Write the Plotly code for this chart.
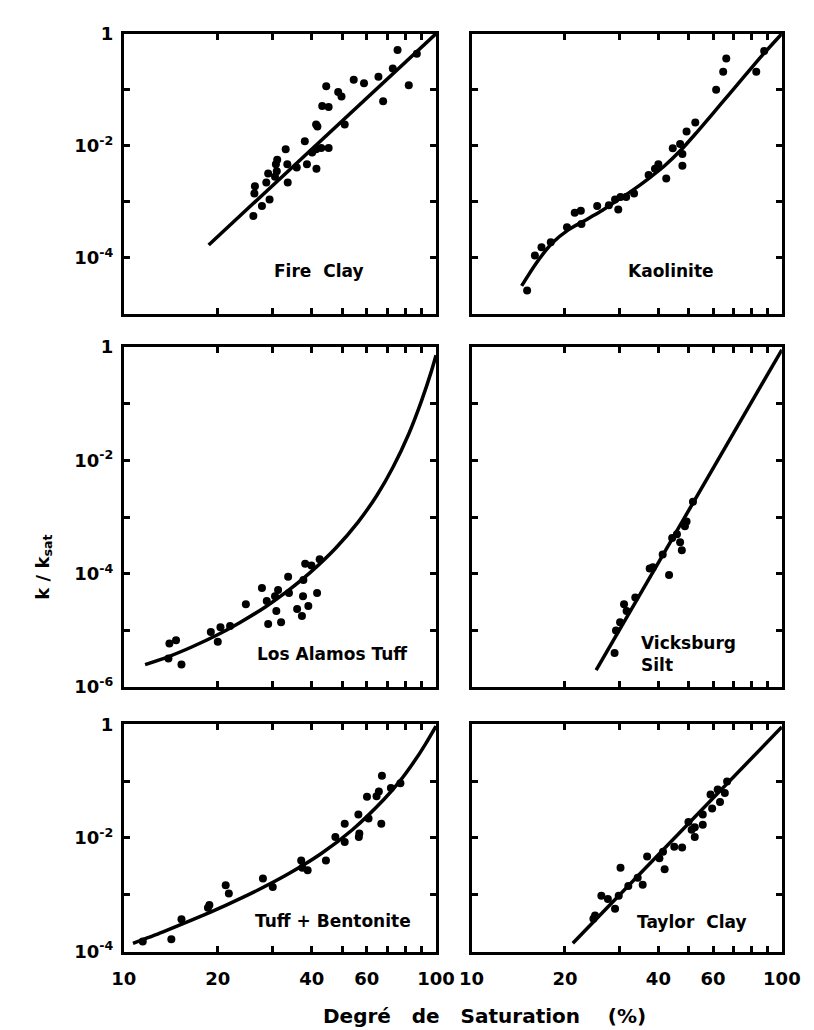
import plotly.graph_objects as go

# ---------------- data ----------------
# Fire Clay
fire_pts_x = [26.0, 27.7, 29.3, 26.2, 26.3, 28.6, 29.0, 30.5, 30.9, 30.7, 31.0, 33.0, 33.4, 33.5, 35.8, 38.6,
              38.0, 40.1, 41.4, 41.3, 42.9, 45.3, 41.3, 41.7, 43.2, 45.3, 44.5, 48.6, 49.8, 51.0, 54.5, 58.8,
              65.4, 67.7, 72.7, 75.3, 81.8, 86.8]
fire_pts_y = [5.6e-4, 8.4e-4, 1.1e-3, 1.4e-3, 1.9e-3, 2.2e-3, 3.2e-3, 2.8e-3, 3.5e-3, 4.7e-3, 5.6e-3, 8.7e-3,
              4.7e-3, 2.2e-3, 4.1e-3, 4.7e-3, 1.2e-2, 7.6e-3, 3.9e-3, 8.7e-3, 9.1e-3, 9.1e-3, 2.4e-2, 2.2e-2,
              5.1e-2, 4.9e-2, 0.115, 0.091, 0.076, 2.4e-2, 0.15, 0.13, 0.17, 0.062, 0.24, 0.51, 0.12, 0.44]
fire_fit_x = [18.7, 100]
fire_fit_y = [1.7e-4, 1.0]

# Kaolinite
kao_pts_x = [15.1, 16.0, 16.8, 18.0, 20.3, 21.5, 22.5, 22.6, 25.4, 27.7, 29.0, 29.7, 30.2, 31.5, 33.4, 37.2,
             39.0, 40.0, 42.4, 44.5, 47.0, 47.8, 47.8, 49.3, 52.6, 61.4, 64.7, 66.2, 82.7, 87.7]
kao_pts_y = [2.6e-5, 1.1e-4, 1.54e-4, 1.9e-4, 3.5e-4, 6.4e-4, 6.9e-4, 4.0e-4, 8.4e-4, 8.7e-4, 1.1e-3, 7.3e-4,
             1.22e-3, 1.22e-3, 1.4e-3, 3.0e-3, 3.9e-3, 4.7e-3, 2.6e-3, 9.0e-3, 1.07e-2, 4.4e-3, 7.1e-3, 1.8e-2,
             2.6e-2, 0.10, 0.21, 0.36, 0.21, 0.49]
kao_fit_x = [14.5, 16.2, 18.2, 20.5, 23.1, 26.0, 29.3, 33.0, 37.2, 41.9, 47.2, 53.2, 60.0, 67.5, 76.0, 85.7, 100]
kao_fit_y = [3.16e-5, 8.2e-5, 1.84e-4, 3.16e-4, 4.6e-4, 6.7e-4, 1.04e-3, 1.6e-3, 2.6e-3, 4.4e-3, 8.3e-3, 1.74e-2,
             3.8e-2, 8.2e-2, 0.178, 0.39, 1.0]

# Los Alamos Tuff
lat_pts_x = [14.0, 14.7, 15.3, 13.9, 19.0, 20.0, 20.4, 21.9, 24.6, 27.7, 28.7, 29.0, 30.5, 31.2, 30.8, 31.9,
             33.6, 33.8, 35.9, 37.5, 37.2, 39.0, 38.1, 39.9, 41.6, 42.4, 37.6]
lat_pts_y = [5.9e-6, 6.7e-6, 2.5e-6, 3.2e-6, 9.4e-6, 6.3e-6, 1.14e-5, 1.2e-5, 2.9e-5, 5.6e-5, 3.3e-5, 1.3e-5,
             4.0e-5, 5.2e-5, 2.2e-5, 1.4e-5, 8.9e-5, 4.6e-5, 2.4e-5, 4.0e-5, 1.8e-5, 2.7e-5, 1.5e-4, 1.4e-4,
             4.6e-5, 1.8e-4, 7.8e-5]
lat_fit_x = [11.7, 14.0, 16.5, 19.9, 23.5, 28.4, 33.5, 39.5, 47.6, 56.2, 64.7, 72.8, 81.9, 89.9, 96.6, 100]
lat_fit_y = [2.5e-6, 3.5e-6, 5.1e-6, 8.3e-6, 1.37e-5, 2.6e-5, 5.0e-5, 1.05e-4, 2.8e-4, 8.1e-4, 2.44e-3, 7.6e-3,
             3.0e-2, 0.114, 0.374, 0.72]

# Vicksburg Silt
vs_pts_x = [28.9, 29.2, 30.1, 31.0, 31.6, 33.7, 37.5, 38.4, 41.3, 43.3, 44.3, 45.9, 47.0, 47.6, 48.7, 51.7, 49.3]
vs_pts_y = [4.0e-6, 1.0e-5, 1.4e-5, 2.9e-5, 2.2e-5, 3.8e-5, 1.24e-4, 1.3e-4, 2.2e-4, 9.5e-5, 4.3e-4, 5.0e-4,
            3.6e-4, 2.6e-4, 6.9e-4, 1.86e-3, 8.4e-4]
vs_fit_x = [25.2, 100]
vs_fit_y = [2.0e-6, 0.9]

# Tuff + Bentonite
tb_pts_x = [11.5, 14.2, 15.3, 18.6, 18.8, 21.2, 21.7, 27.9, 30.0, 37.0, 37.3, 38.8, 44.4, 47.6, 51.0, 51.0,
            56.4, 56.6, 56.8, 60.1, 60.8, 64.5, 65.6, 66.8, 67.1, 71.7, 76.9]
tb_pts_y = [1.5e-4, 1.65e-4, 3.7e-4, 5.9e-4, 6.6e-4, 1.47e-3, 1.05e-3, 1.94e-3, 1.37e-3, 4.0e-3, 3.0e-3, 2.7e-3,
            4.0e-3, 1.04e-2, 1.77e-2, 8.5e-3, 2.6e-2, 1.04e-2, 1.2e-2, 5.3e-2, 2.2e-2, 5.4e-2, 6.6e-2, 1.77e-2,
            0.124, 7.6e-2, 9.2e-2]
tb_fit_x = [10.7, 13.3, 16.7, 21.2, 26.8, 33.8, 42.8, 54.1, 68.4, 76.9, 86.5, 92.7, 100]
tb_fit_y = [1.4e-4, 2.21e-4, 3.68e-4, 6.53e-4, 1.2e-3, 2.36e-3, 5.26e-3, 1.41e-2, 4.89e-2, 0.103, 0.252, 0.458, 0.93]

# Taylor Clay
tc_pts_x = [24.7, 25.0, 26.2, 27.5, 29.0, 29.8, 30.2, 32.0, 34.3, 35.6, 36.8, 40.3, 41.9, 41.4, 45.0, 47.7,
            50.0, 51.2, 52.4, 52.4, 55.6, 55.6, 58.9, 59.6, 62.1, 63.2, 65.5, 66.6]
tc_pts_y = [3.8e-4, 4.3e-4, 9.6e-4, 8.4e-4, 5.7e-4, 9.6e-4, 3.0e-3, 1.43e-3, 2.0e-3, 1.5e-3, 4.7e-3, 4.4e-3,
            2.8e-3, 5.7e-3, 7.0e-3, 6.8e-3, 1.9e-2, 1.4e-2, 1.04e-2, 1.55e-2, 1.7e-2, 2.6e-2, 5.8e-2, 3.3e-2,
            7.1e-2, 4.3e-2, 6.2e-2, 9.9e-2]
tc_fit_x = [21.2, 100]
tc_fit_y = [1.4e-4, 0.9]

panel_names = ["Fire&nbsp;&nbsp;Clay", "Kaolinite", "Los Alamos Tuff", "Vicksburg<br>Silt",
               "Tuff + Bentonite", "Taylor&nbsp;&nbsp;Clay"]
x_tick_vals = [10, 20, 30, 40, 50, 60, 70, 80, 90, 100]
x_tick_text = ["10", "20", "", "40", "", "60", "", "", "", "100"]
row_decades = [5, 6, 4]  # lowest decade exponent shown in each row

# ---------------- figure ----------------
FONT = "DejaVu Sans"
fig = go.Figure()

panels = [
    (fire_pts_x, fire_pts_y, fire_fit_x, fire_fit_y, "linear"),
    (kao_pts_x, kao_pts_y, kao_fit_x, kao_fit_y, "spline"),
    (lat_pts_x, lat_pts_y, lat_fit_x, lat_fit_y, "spline"),
    (vs_pts_x, vs_pts_y, vs_fit_x, vs_fit_y, "linear"),
    (tb_pts_x, tb_pts_y, tb_fit_x, tb_fit_y, "spline"),
    (tc_pts_x, tc_pts_y, tc_fit_x, tc_fit_y, "linear"),
]

W, H = 814, 1030
col_dom = [[107 / W, 432 / W], [469 / W, 792 / W]]
row_dom = [[1 - 301 / H, 1 - 15 / H], [1 - 682 / H, 1 - 335 / H], [1 - 952 / H, 1 - 720 / H]]

label_pos = [  # (x frac within panel, y frac within panel, xanchor)
    (0.625, 0.154, "center"),
    (0.644, 0.154, "center"),
    (0.668, 0.098, "center"),
    (0.539, 0.097, "left"),
    (0.671, 0.134, "center"),
    (0.709, 0.129, "center"),
]

axis_common = dict(
    showgrid=False, zeroline=False, showline=True, linecolor="black", linewidth=3,
    mirror="ticks", ticks="inside", ticklen=6, tickwidth=2.5, tickcolor="black",
    tickfont=dict(family=FONT, size=18, color="black", weight="bold"),
)

for i, (px, py, fx, fy, shape) in enumerate(panels):
    r, c = divmod(i, 2)
    k = i + 1
    xa = "x" if k == 1 else f"x{k}"
    ya = "y" if k == 1 else f"y{k}"
    fig.add_trace(go.Scatter(x=fx, y=fy, mode="lines", xaxis=xa, yaxis=ya,
                             line=dict(color="black", width=3.5, shape=shape, smoothing=0.8),
                             showlegend=False, hoverinfo="skip"))
    fig.add_trace(go.Scatter(x=px, y=py, mode="markers", xaxis=xa, yaxis=ya,
                             marker=dict(color="black", size=8),
                             showlegend=False))
    low = row_decades[r]
    yvals = [10 ** (-e) for e in range(0, low + 1)]
    ytext = []
    for e in range(0, low + 1):
        if c == 1 or e % 2 == 1:
            ytext.append("")
        elif e == 0:
            ytext.append("1")
        else:
            ytext.append(f"10<sup>-{e}</sup>")
    xtext = x_tick_text if r == 2 else [""] * len(x_tick_vals)
    xkey = "xaxis" if k == 1 else f"xaxis{k}"
    ykey = "yaxis" if k == 1 else f"yaxis{k}"
    fig.update_layout(**{
        xkey: dict(axis_common, type="log", range=[1, 2], domain=col_dom[c], anchor=ya,
                   tickvals=x_tick_vals, ticktext=xtext, ticklabelstandoff=9),
        ykey: dict(axis_common, type="log", range=[-low, 0], domain=row_dom[r], anchor=xa,
                   tickvals=yvals, ticktext=ytext, ticklabelstandoff=4),
    })
    lx, ly, anc = label_pos[i]
    fig.add_annotation(text=panel_names[i], xref=f"{xa} domain", yref=f"{ya} domain",
                       x=lx, y=ly, xanchor=anc, yanchor="middle", showarrow=False, align="left",
                       font=dict(family=FONT, size=17, color="black", weight="bold"))

fig.add_annotation(text="Degré&nbsp;&nbsp;&nbsp;de&nbsp;&nbsp;&nbsp;Saturation&nbsp;&nbsp;&nbsp;&nbsp;(%)",
                   xref="paper", yref="paper", x=482 / W, y=1 - 1018 / H,
                   xanchor="center", yanchor="middle", showarrow=False,
                   font=dict(family=FONT, size=20, color="black", weight="bold"))
fig.add_annotation(text="k / k<sub>sat</sub>", xref="paper", yref="paper",
                   x=23 / W, y=1 - 560 / H, xanchor="center", yanchor="middle",
                   textangle=-90, showarrow=False,
                   font=dict(family=FONT, size=18, color="black", weight="bold"))

fig.update_layout(width=W, height=H, margin=dict(l=0, r=0, t=0, b=0),
                  paper_bgcolor="white", plot_bgcolor="white", showlegend=False)

fig.write_html("out.html")
